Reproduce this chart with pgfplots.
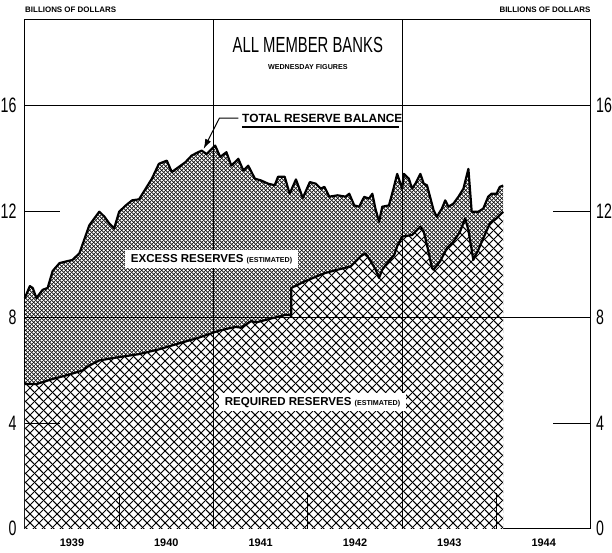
\documentclass[border=0pt]{standalone}
\usepackage{fontspec}
\setmainfont{Liberation Sans}
\newfontfamily\cond{Liberation Sans}[FakeStretch=0.68]
\usepackage{pgfplots}
\pgfplotsset{compat=1.18}
\usepackage{pgfplotstable}
\usetikzlibrary{patterns.meta,arrows.meta}

% coarse diagonal cross-hatch (required reserves)
\tikzdeclarepattern{
  name=coarsex, type=uncolored,
  bounding box={(0,0) and (4.3pt,4.3pt)},
  tile size={(4.3pt,4.3pt)},
  code={
    \draw[line width=0.55pt] (-0.5pt,-0.5pt) -- (4.8pt,4.8pt);
    \draw[line width=0.55pt] (-0.5pt,4.8pt) -- (4.8pt,-0.5pt);
  }
}
% fine cross-hatch (excess reserves)
\tikzdeclarepattern{
  name=finex, type=uncolored,
  bounding box={(0,0) and (2.1pt,2.1pt)},
  tile size={(2.1pt,2.1pt)},
  code={
    \draw[line width=0.42pt] (-0.5pt,-0.5pt) -- (2.6pt,2.6pt);
    \draw[line width=0.42pt] (-0.5pt,2.6pt) -- (2.6pt,-0.5pt);
  }
}

% total reserve balance, billions of dollars
\pgfplotstableread{
x v
1939.000 8.72
1939.053 9.17
1939.084 9.10
1939.123 8.72
1939.189 9.03
1939.242 9.10
1939.295 9.74
1939.368 10.04
1939.505 10.16
1939.579 10.41
1939.684 11.47
1939.789 11.98
1939.842 11.80
1939.895 11.54
1939.947 11.35
1940.000 11.98
1940.071 12.22
1940.137 12.41
1940.211 12.45
1940.281 12.85
1940.347 13.23
1940.421 13.79
1940.505 13.91
1940.558 13.48
1940.632 13.67
1940.702 13.85
1940.768 14.10
1940.821 14.20
1940.874 14.29
1940.926 14.16
1941.018 14.48
1941.071 14.05
1941.137 14.23
1941.189 13.72
1941.263 13.98
1941.316 13.54
1941.368 13.72
1941.439 13.23
1941.505 13.16
1941.579 13.04
1941.649 12.98
1941.684 13.30
1941.755 13.30
1941.807 12.66
1941.874 13.20
1941.947 12.50
1942.021 13.10
1942.084 13.04
1942.137 12.85
1942.176 12.92
1942.228 12.55
1942.316 12.60
1942.400 12.55
1942.439 12.66
1942.492 12.22
1942.544 12.17
1942.597 12.54
1942.649 12.48
1942.684 12.66
1942.716 12.10
1942.755 11.60
1942.789 12.17
1942.860 12.22
1942.913 12.92
1942.947 13.41
1943.000 12.85
1943.018 13.41
1943.071 13.23
1943.105 12.85
1943.140 13.04
1943.193 13.41
1943.228 13.04
1943.263 12.98
1943.333 12.04
1943.368 11.79
1943.421 12.10
1943.456 12.41
1943.491 12.17
1943.544 12.29
1943.597 12.55
1943.649 12.85
1943.702 13.60
1943.737 11.98
1943.807 11.98
1943.860 12.10
1943.912 12.55
1943.947 12.66
1944.000 12.66
1944.035 12.92
1944.071 12.97
}\totaltab

% required reserves (estimated)
\pgfplotstableread{
x v
1939.000 5.47
1939.126 5.47
1939.295 5.66
1939.442 5.80
1939.611 5.98
1939.684 6.17
1939.789 6.36
1939.968 6.47
1940.211 6.60
1940.421 6.78
1940.600 6.97
1940.842 7.22
1941.053 7.48
1941.232 7.63
1941.295 7.60
1941.400 7.85
1941.453 7.80
1941.758 8.08
1941.824 8.08
1941.825 9.10
1941.968 9.35
1942.179 9.66
1942.316 9.79
1942.453 9.91
1942.558 10.29
1942.611 10.41
1942.666 10.11
1942.719 9.79
1942.755 9.48
1942.789 9.79
1942.842 10.04
1942.916 10.35
1942.947 10.67
1943.000 11.04
1943.105 11.10
1943.193 11.41
1943.228 11.23
1943.263 10.72
1943.316 9.85
1943.333 9.79
1943.403 10.11
1943.474 10.60
1943.544 10.85
1943.614 11.23
1943.667 11.73
1943.702 11.29
1943.754 10.16
1943.807 10.54
1943.860 10.98
1943.930 11.54
1944.000 11.73
1944.071 11.98
}\reqtab

\begin{document}
\begin{tikzpicture}
\begin{axis}[
  scale only axis,
  width=285pt, height=256.25pt,
  xmin=1939, xmax=1945,
  ymin=0, ymax=19.23,
  clip=false,
  axis line style={line width=0.6pt},
  major tick length=0pt,
  xtick={1939.5,1940.5,1941.5,1942.5,1943.5,1944.5},
  xticklabels={1939,1940,1941,1942,1943,1944},
  xticklabel style={font=\bfseries\fontsize{5.5}{5.5}\selectfont, anchor=north, inner sep=0pt, yshift=-5pt},
  ytick={0,4,8,12,16},
  yticklabels={0,4,8,12,16},
  yticklabel style={font=\cond\fontsize{10.5}{10.5}\selectfont, anchor=east, inner sep=0pt, xshift=-4pt},
]
% areas
\addplot[draw=none, pattern=finex] table[x=x,y=v]{\totaltab} \closedcycle;
\addplot[draw=none, fill=white] table[x=x,y=v]{\reqtab} \closedcycle;
\addplot[draw=none, pattern=coarsex] table[x=x,y=v]{\reqtab} \closedcycle;

% grid rules
\draw[line width=0.4pt] (axis cs:1939,16) -- (axis cs:1945,16);
\draw[line width=0.4pt] (axis cs:1939,8) -- (axis cs:1945,8);
\draw[line width=0.4pt] (axis cs:1939,12) -- (axis cs:1939.37,12);
\draw[line width=0.4pt] (axis cs:1944.6,12) -- (axis cs:1945,12);
\draw[line width=0.4pt] (axis cs:1939,4) -- (axis cs:1939.37,4);
\draw[line width=0.4pt] (axis cs:1944.6,4) -- (axis cs:1945,4);
\draw[line width=0.4pt] (axis cs:1941,0) -- (axis cs:1941,19.23);
\draw[line width=0.4pt] (axis cs:1943,0) -- (axis cs:1943,19.23);
\draw[line width=0.4pt] (axis cs:1940,0) -- (axis cs:1940,1.35);
\draw[line width=0.4pt] (axis cs:1942,0) -- (axis cs:1942,1.35);
\draw[line width=0.4pt] (axis cs:1944,0) -- (axis cs:1944,1.35);

% curves
\addplot[black, line width=1.1pt, line join=round] table[x=x,y=v]{\totaltab};
\addplot[black, line width=1.1pt, line join=round] table[x=x,y=v]{\reqtab};

% right-hand scale
\pgfplotsinvokeforeach{0,4,8,12,16}{
  \node[anchor=west, font=\cond\fontsize{10.5}{10.5}\selectfont, inner sep=0pt, xshift=2.5pt] at (axis cs:1945,#1) {#1};
}

% titles
\node[font=\cond\fontsize{11}{11}\selectfont] at (axis cs:1942,18.29) {ALL MEMBER BANKS};
\node[font=\bfseries\fontsize{3.6}{3.6}\selectfont] at (axis cs:1942,17.45) {WEDNESDAY FIGURES};
\node[anchor=west, font=\bfseries\fontsize{4}{4}\selectfont, inner sep=0pt] at (axis cs:1939,19.6) {BILLIONS OF DOLLARS};
\node[anchor=east, font=\bfseries\fontsize{4}{4}\selectfont, inner sep=0pt] at (axis cs:1945,19.6) {BILLIONS OF DOLLARS};

% labels
\node[anchor=west, font=\bfseries\fontsize{6}{6}\selectfont, inner sep=0pt] at (axis cs:1941.30,15.5) {TOTAL RESERVE BALANCE};
\draw[line width=0.8pt] (axis cs:1941.30,15.18) -- (axis cs:1942.97,15.18);
\draw[line width=0.5pt, -{Latex[length=5pt,width=3.2pt]}] (axis cs:1941.263,15.52) -- (axis cs:1941.063,15.52) -- (axis cs:1940.895,14.35);
\node[fill=white, inner xsep=3pt, inner ysep=2pt, font=\bfseries\fontsize{5.8}{5.8}\selectfont] at (axis cs:1940.98,10.19)
  {EXCESS RESERVES {\fontsize{3.6}{3.6}\selectfont (ESTIMATED)}};
\node[fill=white, inner xsep=3pt, inner ysep=2pt, font=\bfseries\fontsize{5.8}{5.8}\selectfont] at (axis cs:1942.05,4.78)
  {REQUIRED RESERVES {\fontsize{3.6}{3.6}\selectfont (ESTIMATED)}};

% page extent
\path (axis cs:1938.737,-0.882) rectangle (axis cs:1945.179,19.98);
\end{axis}
\end{tikzpicture}
\end{document}
